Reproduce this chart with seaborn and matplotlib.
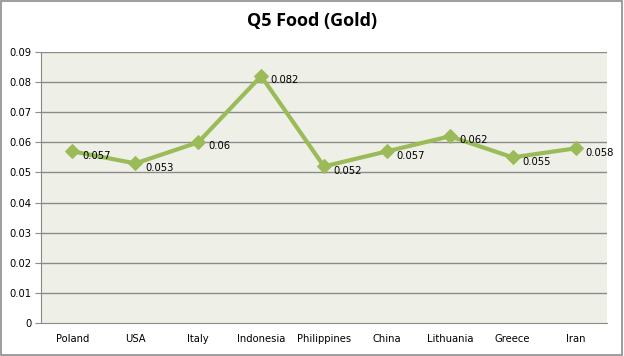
import matplotlib
matplotlib.use("Agg")
import matplotlib.pyplot as plt
import seaborn as sns
import pandas as pd
from matplotlib.patches import Rectangle

countries = ["Poland", "USA", "Italy", "Indonesia", "Philippines", "China", "Lithuania", "Greece", "Iran"]
values = [0.057, 0.053, 0.06, 0.082, 0.052, 0.057, 0.062, 0.055, 0.058]
value_labels = ["0.057", "0.053", "0.06", "0.082", "0.052", "0.057", "0.062", "0.055", "0.058"]
y_ticks = [0, 0.01, 0.02, 0.03, 0.04, 0.05, 0.06, 0.07, 0.08, 0.09]
y_tick_labels = ["0", "0.01", "0.02", "0.03", "0.04", "0.05", "0.06", "0.07", "0.08", "0.09"]

df = pd.DataFrame({"country": countries, "value": values})
df["pos"] = range(len(countries))

sns.set_style("white")
plt.rcParams['font.family'] = ['DejaVu Sans']
plt.rcParams['text.color'] = 'black'
plt.rcParams['xtick.color'] = 'black'
plt.rcParams['ytick.color'] = 'black'

fig = plt.figure(figsize=(6.24, 3.56), dpi=100)
fig.patch.set_facecolor("white")
fig.add_artist(Rectangle((0.002, 0.003), 0.995, 0.993, transform=fig.transFigure,
                         fill=False, edgecolor="#8c8c8c", linewidth=1.2))
ax = fig.add_axes([0.0657, 0.0927, 0.9071, 0.7613])
ax.set_facecolor("#eef0e8")

for t in y_ticks[1:]:
    ax.axhline(t, color="#8a8a8a", linewidth=1.0, zorder=1)

sns.lineplot(data=df, x="pos", y="value", ax=ax, color="#9bbb59", linewidth=3.0,
             marker="D", markersize=7, markeredgecolor="#9bbb59", zorder=3)

for x, v, lab in zip(df["pos"], values, value_labels):
    ax.annotate(lab, (x, v), xytext=(7, -3), textcoords="offset points",
                fontsize=7.2, va="center", ha="left", color="black", zorder=4)

ax.set_xlim(-0.5, len(countries) - 0.5)
ax.set_ylim(0, 0.09)
ax.set_yticks(y_ticks)
ax.set_yticklabels(y_tick_labels, fontsize=7.2)
ax.set_xticks(df["pos"])
ax.set_xticklabels(countries, fontsize=7.2)
ax.set_xlabel("")
ax.set_ylabel("")

# category boundary ticks
ax.set_xticks([i - 0.5 for i in range(len(countries) + 1)], minor=True)
ax.tick_params(axis="x", which="major", length=0, pad=8, labelcolor="black")
ax.tick_params(axis="x", which="minor", length=4, color="#8a8a8a", direction="out")
ax.tick_params(axis="y", length=4, color="#8a8a8a", direction="out", left=True, pad=3,
               labelcolor="black")

for s in ["top", "right"]:
    ax.spines[s].set_visible(False)
ax.spines["left"].set_color("#8a8a8a")
ax.spines["bottom"].set_color("#8a8a8a")

fig.text(0.5, 0.94, "Q5 Food (Gold)", ha="center", va="center", fontsize=13,
         fontweight="bold", color="black", family=["Open Sans", "DejaVu Sans"])

fig.savefig("out.png", dpi=100)
